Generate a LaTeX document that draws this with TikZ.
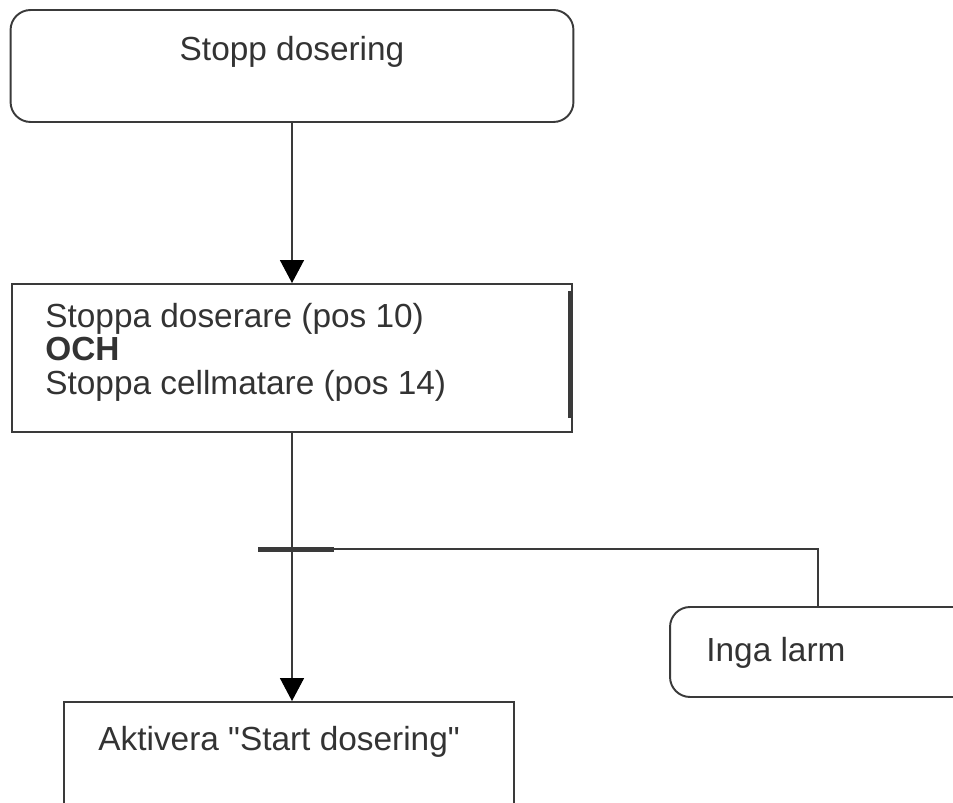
\documentclass[tikz,border=0pt]{standalone}
\usepackage{fontspec}
\setmainfont{Liberation Sans}
\usetikzlibrary{arrows.meta, positioning}
\definecolor{linegray}{HTML}{3A3A3A}
\definecolor{textgray}{HTML}{333333}

\begin{document}
\begin{tikzpicture}[x=0.02cm, y=-0.02cm,
		box/.style={draw=linegray, line width=1.1pt, inner sep=0pt},
		roundbox/.style={box, rounded corners=0.4cm},
		txt/.style={text=textgray, font=\fontsize{19}{19}\selectfont, inner sep=0pt, align=left},
		flow/.style={draw=linegray, line width=0.8pt},
		arr/.style={flow, -{Triangle[length=0.46cm, width=0.48cm, color=black]}}]
			% Frame
			\useasboundingbox (0,0) rectangle (953,803);
			\clip (0,0) rectangle (953,803);
			
			% Boxes
			\node[roundbox, minimum width=11.26cm, minimum height=2.24cm] (stopp) at (292,66) {};
			\node[txt] (stopp-txt) at (292,52) {Stopp dosering};
			\node[box, minimum width=11.2cm, minimum height=2.96cm] (step) at (292,358) {};
			\node[txt, anchor=west] (step-txt) at (45,352) {Stoppa doserare (pos 10)\\\textbf{OCH}\\Stoppa cellmatare (pos 14)};
			\draw[linegray, line width=2pt] ([xshift=-0.07cm, yshift=-0.16cm]step.north east) -- ([xshift=-0.07cm, yshift=0.3cm]step.south east);
			\node[roundbox, minimum width=6.4cm, minimum height=1.8cm] (inga) at (830,652) {};
			\node[txt, anchor=west] (inga-txt) at (706,653) {Inga larm};
			\node[box, minimum width=9cm, minimum height=2.96cm] (akt) at (289,776) {};
			\node[txt, anchor=west] (akt-txt) at (98,742) {Aktivera \textquotedbl Start dosering\textquotedbl};
			
			% Transition
			\node[fill=linegray, inner sep=0pt, minimum width=1.52cm, minimum height=0.1cm] (bar) at (296,549) {};
			
			% Connectors
			\draw[arr] (stopp.south) -- (stopp.south |- step.north);
			\draw[arr] (step.south) -- (step.south |- akt.north);
			\draw[flow] (bar.east) -| ([xshift=-0.24cm]inga.north);
		\end{tikzpicture}
\end{document}
